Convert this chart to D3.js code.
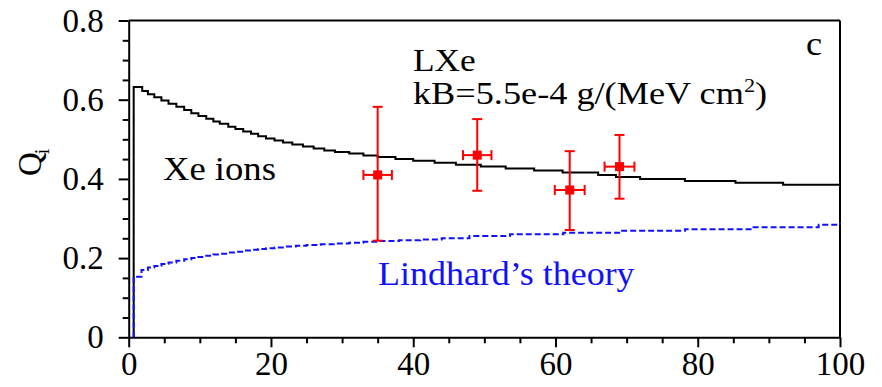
<!DOCTYPE html>
<html>
<head>
  <style>
    body { margin: 0; padding: 0; background: #fff; }
    svg { display: block; }
    text { font-family: "Liberation Serif", Tinos, "Times New Roman", Times, "DejaVu Serif", serif; }
  </style>
</head>
<body>
  <svg id="chart" width="882" height="387"></svg>
  <script src="https://d3js.org/d3.v7.min.js"></script>
  <script>
    // black histogram (Xe ions): step start positions and levels
    var ionX = [0.7, 1.9, 2.7, 3.6, 4.6, 5.6, 6.7, 7.8, 8.8, 9.8, 10.9, 11.9, 12.8, 14.0, 15.0, 16.1, 17.2, 18.2, 19.3, 20.5, 21.7, 23, 24.5, 26, 27.5, 29, 31, 33, 35, 37.5, 40, 43, 46, 49.5, 53, 57, 61, 66, 68.5, 71.9, 78.2, 85.3, 92, 100];
    var ionQ = [0.632, 0.622, 0.614, 0.606, 0.598, 0.590, 0.582, 0.574, 0.566, 0.559, 0.552, 0.545, 0.539, 0.532, 0.526, 0.520, 0.514, 0.508, 0.502, 0.497, 0.492, 0.487, 0.482, 0.477, 0.472, 0.468, 0.464, 0.459, 0.455, 0.450, 0.446, 0.441, 0.436, 0.431, 0.426, 0.421, 0.416, 0.410, 0.405, 0.400, 0.395, 0.390, 0.385, 0.385];

    // blue dashed histogram (Lindhard's theory)
    var lindX = [0.7, 1.8, 2.7, 3.6, 4.6, 5.6, 6.7, 7.8, 8.8, 9.8, 10.9, 11.9, 12.8, 14.0, 15.0, 16.1, 17.2, 18.2, 19.3, 20.5, 22, 23.5, 25, 27, 29, 31, 33, 35, 38, 41, 44, 47.9, 53.6, 61.1, 69.1, 78.2, 87.6, 97, 100];
    var lindQ = [0.153, 0.170, 0.176, 0.180, 0.185, 0.189, 0.193, 0.197, 0.200, 0.203, 0.206, 0.209, 0.211, 0.214, 0.216, 0.219, 0.221, 0.223, 0.225, 0.227, 0.229, 0.231, 0.233, 0.235, 0.237, 0.239, 0.241, 0.243, 0.245, 0.247, 0.250, 0.256, 0.260, 0.264, 0.269, 0.273, 0.278, 0.284, 0.289];

    // measured points with x and y errors
    var ptX = [35, 49, 62, 69];
    var ptXerr = [2, 2, 2.1, 2.1];
    var ptQ = [0.41, 0.46, 0.372, 0.431];
    var ptQlo = [0.244, 0.37, 0.271, 0.35];
    var ptQhi = [0.582, 0.551, 0.47, 0.511];

    var xMajor = [0, 20, 40, 60, 80, 100];
    var yMajor = [0, 0.2, 0.4, 0.6, 0.8];

    var svg = d3.select("#chart");
    var x = d3.scaleLinear().domain([0, 100]).range([128.7, 840]);
    var y = d3.scaleLinear().domain([0, 0.8]).range([337.3, 20.5]);

    var xMinor = d3.range(0, 101, 5).filter(function (d) { return d % 20 !== 0; });
    var yMinor = d3.range(0, 0.801, 0.05).filter(function (d) { return Math.abs(d * 5 - Math.round(d * 5)) > 1e-6; });

    var serif = "'Liberation Serif', Tinos, 'Times New Roman', Times, 'DejaVu Serif', serif";

    function styleAxis(g) {
      g.attr("font-family", null);
      g.selectAll("path, line").attr("stroke", "#000").attr("stroke-width", 2);
      g.selectAll("text").attr("fill", "#000").style("font-size", "33px").style("font-family", serif);
    }

    // x axis
    var gx = svg.append("g").attr("transform", "translate(0," + y(0) + ")");
    gx.call(d3.axisBottom(x).tickValues(xMajor).tickSize(10).tickSizeOuter(0).tickPadding(4)
      .tickFormat(d3.format("d")));
    gx.append("g").call(d3.axisBottom(x).tickValues(xMinor).tickSize(6).tickFormat(""))
      .select(".domain").remove();
    styleAxis(gx);

    // y axis
    var gy = svg.append("g").attr("transform", "translate(" + x(0) + ",0)");
    gy.call(d3.axisLeft(y).tickValues(yMajor).tickSize(10).tickSizeOuter(0).tickPadding(15)
      .tickFormat(function (d) { return d === 0 ? "0" : d3.format(".1f")(d); }));
    gy.append("g").call(d3.axisLeft(y).tickValues(yMinor).tickSize(6).tickFormat(""))
      .select(".domain").remove();
    styleAxis(gy);

    // top and right frame
    svg.append("line").attr("x1", x(0)).attr("x2", x(100)).attr("y1", y(0.8)).attr("y2", y(0.8))
      .attr("stroke", "#000").attr("stroke-width", 2);
    svg.append("line").attr("x1", x(100)).attr("x2", x(100)).attr("y1", y(0.8)).attr("y2", y(0))
      .attr("stroke", "#000").attr("stroke-width", 2);

    function stepPts(xs, qs) {
      var pts = [[xs[0], 0]];
      xs.forEach(function (d, i) { pts.push([d, qs[i]]); });
      return pts;
    }
    var line = d3.line().x(function (d) { return x(d[0]); }).y(function (d) { return y(d[1]); })
      .curve(d3.curveStepAfter);

    svg.append("path").attr("d", line(stepPts(ionX, ionQ)))
      .attr("fill", "none").attr("stroke", "#000").attr("stroke-width", 2);

    svg.append("path").attr("d", line(stepPts(lindX, lindQ)))
      .attr("fill", "none").attr("stroke", "#1010ff").attr("stroke-width", 2)
      .attr("stroke-dasharray", "6,3");

    // error bars
    var pts = svg.append("g").attr("stroke", "#ff0000").attr("stroke-width", 2);
    ptX.forEach(function (d, i) {
      pts.append("line").attr("x1", x(d)).attr("x2", x(d)).attr("y1", y(ptQlo[i])).attr("y2", y(ptQhi[i]));
      pts.append("line").attr("x1", x(d - ptXerr[i])).attr("x2", x(d + ptXerr[i])).attr("y1", y(ptQ[i])).attr("y2", y(ptQ[i]));
      [ptQlo[i], ptQhi[i]].forEach(function (q) {
        pts.append("line").attr("x1", x(d) - 5).attr("x2", x(d) + 5).attr("y1", y(q)).attr("y2", y(q));
      });
      [d - ptXerr[i], d + ptXerr[i]].forEach(function (v) {
        pts.append("line").attr("x1", x(v)).attr("x2", x(v)).attr("y1", y(ptQ[i]) - 5).attr("y2", y(ptQ[i]) + 5);
      });
      pts.append("rect").attr("x", x(d) - 4.5).attr("y", y(ptQ[i]) - 4.5).attr("width", 9).attr("height", 9)
        .attr("fill", "#ff0000").attr("stroke", "none");
    });

    // annotations (reference text is a little wider than the fallback font, so stretch horizontally)
    function label(px, py, sx, size, color) {
      return svg.append("text")
        .attr("transform", "translate(" + px + "," + py + ") scale(" + sx + ",1)")
        .style("font-size", size + "px").attr("fill", color || "#000");
    }
    label(413, 71, 1.14, 31).text("LXe");
    var kb = label(413, 104, 1.17, 31);
    kb.append("tspan").text("kB=5.5e-4 g/(MeV cm");
    kb.append("tspan").attr("dy", -12).style("font-size", "19px").text("2");
    kb.append("tspan").attr("dy", 12).text(")");
    label(806, 55, 1.1, 33).text("c");
    label(163, 180, 1.11, 33).text("Xe ions");
    label(378, 285, 1.09, 33, "#1010ff").text("Lindhard\u2019s theory");

    var yl = svg.append("text").attr("transform", "translate(41,176) rotate(-90)").style("font-size", "33px");
    yl.append("tspan").text("Q");
    yl.append("tspan").attr("dy", 8).attr("dx", -2).style("font-size", "20px").text("i");
  </script>
</body>
</html>
